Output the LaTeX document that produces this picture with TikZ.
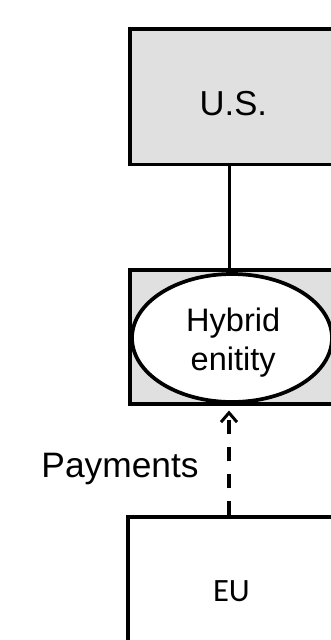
\documentclass[tikz,border=0pt]{standalone}
\usepackage{fontspec}
\setmainfont{Liberation Sans}
\newfontfamily\eufont{Carlito}
\usetikzlibrary{arrows.meta,shapes.geometric}
\definecolor{boxgray}{RGB}{224,224,224}
\tikzset{
  entitybox/.style={draw=black, line width=2.8pt, rectangle, inner sep=0pt},
  hybridoval/.style={draw=black, fill=white, line width=2.8pt, ellipse, inner sep=0pt,
    minimum width=150pt, minimum height=96pt},
  lbl/.style={inner sep=0pt, anchor=base, text=black},
  link/.style={line width=2.6pt},
  flow/.style={line width=2.6pt, dash pattern=on 10.5pt off 9.75pt,
    -{Straight Barb[length=7pt,width=12pt,line width=2.2pt]}, shorten >=3.5pt}
}
\begin{document}
\begin{tikzpicture}[x=0.75pt,y=-0.75pt]
  \clip (0,0) rectangle (331,640);
  \fill[white] (0,0) rectangle (331,640);

  % parent company
  \node[entitybox, fill=boxgray, minimum width=153pt, minimum height=101.5pt] (us) at (232,96.7) {};
  \node[lbl, font=\fontsize{26}{31}\selectfont] (ustext) at (233.3,115) {U.S.};

  % hybrid entity
  \node[entitybox, fill=boxgray, minimum width=153pt, minimum height=100.5pt] (hbox) at (232,337) {};
  \node[hybridoval] (hyb) at (232,338) {};
  \node[lbl, font=\fontsize{24.4}{28.7}\selectfont, align=center] (hybtext) at (233.2,370) {Hybrid\\enitity};

  % EU subsidiary
  \node[entitybox, fill=white, minimum width=155pt, minimum height=122pt] (eu) at (231,598.5) {};
  \node[lbl, font=\eufont\fontsize{24.4}{29}\selectfont] (eutext) at (231.4,601.7) {EU};

  % connectors
  \draw[link] ([xshift=-1.9pt]us.south) -- ([xshift=-1.9pt]hbox.north);
  \draw[flow] ([xshift=-1.5pt]eu.north) -- ([xshift=-2.25pt]hbox.south);
  \node[lbl, font=\fontsize{26.5}{32}\selectfont] (pay) at (120,477) {Payments};
\end{tikzpicture}
\end{document}
